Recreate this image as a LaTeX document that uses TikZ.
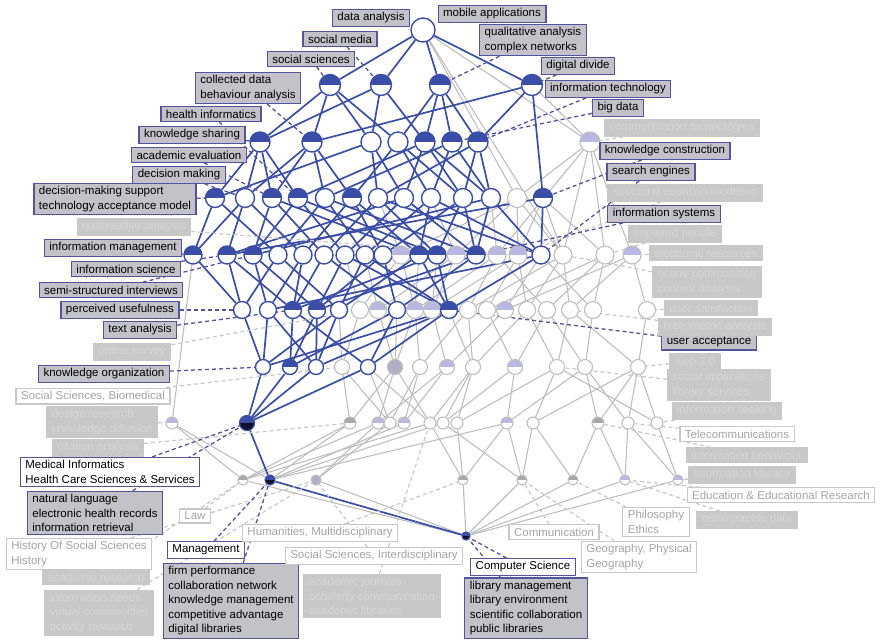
\documentclass[tikz,border=0pt]{standalone}
\usepackage{fontspec}
\setmainfont{Liberation Sans}

\definecolor{cblue}{RGB}{58,78,168}
\definecolor{lblue}{RGB}{84,84,158}
\definecolor{lfill}{RGB}{194,194,200}
\definecolor{gfill}{RGB}{200,200,200}
\definecolor{gtext}{RGB}{214,214,214}
\definecolor{otext}{RGB}{165,165,165}
\definecolor{gline}{RGB}{190,190,190}
\definecolor{lav}{RGB}{184,184,226}
\definecolor{ghalf}{RGB}{168,168,168}
\definecolor{dkfill}{RGB}{16,16,40}
\definecolor{lavgray}{RGB}{176,176,196}

\pgfdeclarelayer{edges}
\pgfsetlayers{edges,main}

\tikzset{
  concept/.style={circle, inner sep=0pt},
  tophalf/.style={path picture={\fill[#1] (path picture bounding box.west) rectangle (path picture bounding box.north east);}},
  bw/.style={concept, draw=cblue, line width=1.4pt, fill=white},
  bh/.style={bw, tophalf=cblue},
  gw/.style={concept, draw=gline, line width=1.1pt, fill=white},
  lh/.style={gw, tophalf=lav},
  gh/.style={gw, tophalf=ghalf},
  gf/.style={gw, fill=lavgray},
  dk/.style={concept, draw=cblue, line width=1.2pt, fill=dkfill, tophalf=cblue},
  lbl/.style={rectangle, inner xsep=5pt, inner ysep=3pt, align=left, line width=1.2pt},
  aon/.style={lbl, fill=lfill, draw=lblue, text=black},
  aoff/.style={lbl, fill=gfill, draw=gfill, text=gtext},
  oon/.style={lbl, fill=white, draw=lblue, text=black},
  ooff/.style={lbl, fill=white, draw=gfill, text=otext},
  bedge/.style={draw=cblue, line width=1.7pt},
  gedge/.style={draw=gline, line width=1.1pt},
  bdash/.style={draw=lblue, line width=1.3pt, dash pattern=on 4pt off 3pt},
  gdash/.style={draw=gfill, line width=1.2pt, dash pattern=on 4pt off 3pt},
}

\begin{document}
\begin{tikzpicture}[x=1pt, y=-1pt, font=\fontsize{11.5}{14.5}\selectfont]
    \useasboundingbox (0,0) rectangle (881,641);

    % Concepts, row by row
    \node[bw, minimum size=24pt] (top) at (423,30) {};
    \foreach \n/\x/\s in {a1/330/bh, a2/381/bh, a3/440/bh, a4/532/bh}
        \node[\s, minimum size=21pt] (\n) at (\x,85) {};
    \foreach \n/\x/\s in {b1/260/bh, b2/312/bh, b3/371/bw, b4/398/bw, b5/425/bh, b6/452/bh, b7/478/bh, b8/590/lh}
        \node[\s, minimum size=20pt] (\n) at (\x,142) {};
    \foreach \n/\x/\s in {c1/215/bh, c2/245/bw, c3/272/bh, c4/298/bh, c5/325/bw, c6/352/bh, c7/378/bw,
                          c8/404/bw, c9/431/bw, c10/463/bw, c11/491/bw, c12/517/gw, c13/543/bh}
        \node[\s, minimum size=19pt] (\n) at (\x,198) {};
    \foreach \n/\x/\s in {d1/193/bh, d2/227/bh, d3/253/bh, d4/278/bw, d5/303/bw, d6/324/bw, d7/345/bw,
                          d8/365/bw, d9/383/bw, d10/401/lh, d11/419/bh, d12/437/bh, d13/456/lh, d14/476/bh,
                          d15/497/lh, d16/518/lh, d17/541/bw, d18/563/gw, d19/605/gw, d20/632/lh}
        \node[\s, minimum size=18pt] (\n) at (\x,255) {};
    \foreach \n/\x/\s in {e1/242/bw, e2/268/bw, e3/293/bh, e4/317/bh, e5/339/bw, e6/360/gw, e7/378/lh,
                          e8/397/bw, e9/415/lh, e10/432/lh, e11/449/bh, e12/468/gw, e13/487/gw, e14/505/lh,
                          e15/527/gw, e16/547/gw, e17/570/gw, e18/593/gw, e19/647/gw}
        \node[\s, minimum size=17pt] (\n) at (\x,310) {};
    \foreach \n/\x/\s in {f1/263/bw, f2/290/bh, f3/316/bw, f4/342/gw, f5/368/bw, f6/395/gf, f7/420/gw,
                          f8/447/lh, f9/473/gw, f10/515/lh, f11/557/gw, f12/585/gw, f13/638/gw}
        \node[\s, minimum size=15pt] (\n) at (\x,367) {};
    \foreach \n/\x/\s in {g1/172/lh, g3/350/gh, g4/378/lh, g5/390/gw, g6/404/lh, g7/430/gw, g8/443/gw,
                          g9/457/gw, g10/507/lh, g11/533/gw, g12/598/gh, g13/628/gw, g14/657/gw}
        \node[\s, minimum size=12pt] (\n) at (\x,423) {};
    \node[dk, minimum size=15pt] (g2) at (247,423) {};
    \foreach \n/\x/\s in {h1/243/gh, h2/270/dk, h3/316/gf, h4/463/gh, h5/522/gh, h6/573/gh, h7/625/lh, h8/678/lh}
        \node[\s, minimum size=10pt] (\n) at (\x,480) {};
    \node[dk, minimum size=8pt] (k1) at (466,536) {};

    % Attribute labels
    \node[aon] (dataanalysis) at (371,18) {data analysis};
    \node[aon] (mobileapps) at (492,14) {mobile applications};
    \node[aon] (socialmedia) at (340,39) {social media};
    \node[aon] (qualitative) at (533,40) {qualitative analysis\\complex networks};
    \node[aon] (socialsci) at (311,59) {social sciences};
    \node[aon] (digitaldivide) at (578,66) {digital divide};
    \node[aon] (collected) at (248,88) {collected data\\behaviour analysis};
    \node[aon] (infotech) at (608,89) {information technology};
    \node[aon] (bigdata) at (618,108) {big data};
    \node[aon] (healthinf) at (211,114) {health informatics};
    \node[aon] (knowsharing) at (192,135) {knowledge sharing};
    \node[aon] (acadeval) at (189,155) {academic evaluation};
    \node[aon] (knowconstr) at (665,151) {knowledge construction};
    \node[aon] (decmaking) at (179,175) {decision making};
    \node[aon] (searcheng) at (651,172) {search engines};
    \node[aon] (dmsupport) at (115,199) {decision-making support\\technology acceptance model};
    \node[aon] (infosys) at (664,214) {information systems};
    \node[aon] (infomgmt) at (113,248) {information management};
    \node[aon] (infosci) at (126,269) {information science};
    \node[aon] (semistruct) at (111,290) {semi-structured interviews};
    \node[aon] (perceived) at (120,310) {perceived usefulness};
    \node[aon] (textan) at (140,330) {text analysis};
    \node[aon] (useracc) at (709,342) {user acceptance};
    \node[aon] (knoworg) at (104,374) {knowledge organization};
    \node[aon] (natlang) at (95,513) {natural language\\electronic health records\\information retrieval};
    \node[aon] (firmperf) at (231,601) {firm performance\\collaboration network\\knowledge management\\competitive advantage\\digital libraries};
    \node[aon] (libmgmt) at (526,608) {library management\\library environment\\scientific collaboration\\public libraries};

    \node[aoff] (commtech) at (682,128) {communication technologies};
    \node[aoff] (structeq) at (685,193) {structural equation modeling};
    \node[aoff] (quantitative) at (134,227) {quantitative analysis};
    \node[aoff] (impaired) at (675,234) {impaired people};
    \node[aoff] (electronic) at (706,253) {electronic resources};
    \node[aoff] (onlinecomm) at (707,282) {online communities\\content analysis};
    \node[aoff] (usersat) at (711,308) {user satisfaction};
    \node[aoff] (bibliometric) at (715,327) {bibliometric analysis};
    \node[aoff] (onlinesurvey) at (132,352) {online survey};
    \node[aoff] (webtwo) at (695,361) {web 2.0};
    \node[aoff] (socialimpl) at (719,385) {social implications\\library services};
    \node[aoff] (designres) at (102,422) {design research\\knowledge diffusion};
    \node[aoff] (infoseek) at (727,411) {information seeking};
    \node[aoff] (citation) at (98,448) {citation analysis};
    \node[aoff] (infobehav) at (747,455) {information behaviour};
    \node[aoff] (infolit) at (742,475) {information literacy};
    \node[aoff] (bibliodata) at (747,520) {bibliographic data};
    \node[aoff] (acadres) at (96,577) {academic research};
    \node[aoff] (acadjournals) at (372,596) {academic journals\\scholarly communication\\academic libraries};
    \node[aoff] (infoneeds) at (99,613) {information needs\\virtual communities\\activity research};

    % Object labels
    \node[oon] (medinf) at (110,472) {Medical Informatics\\Health Care Sciences \& Services};
    \node[oon] (mgmt) at (206,550) {Management};
    \node[oon] (compsci) at (523,567) {Computer Science};

    \node[ooff] (socscibio) at (93,396) {Social Sciences, Biomedical};
    \node[ooff] (telecom) at (737,434) {Telecommunications};
    \node[ooff] (law) at (195,516) {Law};
    \node[ooff] (edu) at (781,495) {Education \& Educational Research};
    \node[ooff] (humanities) at (320,533) {Humanities, Multidisciplinary};
    \node[ooff] (philosophy) at (656,522) {Philosophy\\Ethics};
    \node[ooff] (communication) at (554,532) {Communication};
    \node[ooff] (history) at (79,554) {History Of Social Sciences\\History};
    \node[ooff] (socsciinter) at (374,556) {Social Sciences, Interdisciplinary};
    \node[ooff] (geography) at (639,557) {Geography, Physical\\Geography};

    \begin{pgfonlayer}{edges}
    % grey part of the lattice
    \foreach \u/\v in {top/b8, top/c12, top/d18, a4/b8, b8/c12, b8/d15, b8/d18, b8/d19, b8/d20,
                       c12/d10, c12/d13, c12/d16, c12/d18, c7/d10, c9/d13, c11/d15, c13/d16, c13/d18, c13/d19,
                       d10/e6, d10/e9, d13/e7, d13/e10, d15/e9, d15/e12, d16/e10, d16/e13, d18/e12, d18/e15,
                       d18/e17, d19/e13, d19/e16, d19/e18, d20/e14, d20/e17, d20/e19, d7/e6, d8/e7, d15/e16,
                       d16/e15, d17/e18, d17/e14, d12/e10, d11/e9,
                       e6/f4, e5/f4, e7/f6, e9/f6, e9/f7, e12/f7, e10/f8, e14/f8, e12/f9, e15/f9, e13/f10,
                       e16/f10, e15/f11, e17/f11, e16/f12, e18/f12, e19/f13, e17/f13, e8/f6, e11/f9,
                       d1/g1, f4/g3, f6/g3, f6/g4, f8/g4, f7/g5, f4/g5, f8/g6, f7/g6, f9/g7, f6/g7, f10/g8,
                       f9/g8, f9/g9, f11/g9, f10/g10, f12/g10, f11/g11, f13/g11, f12/g12, f13/g12, f13/g13,
                       f12/g13, f13/g14, f11/g14, f5/g5, f5/g7,
                       g1/h1, g1/h2, g3/h1, g4/h1, g7/h1, g6/h2, g10/h2, g3/h2, g8/h2, g5/h3, g4/h3,
                       g7/h4, g10/h4, g9/h4, g11/h5, g10/h5, g8/h5, g12/h6, g11/h6, g13/h7, g12/h7,
                       g14/h8, g13/h8,
                       h1/k1, h3/k1, h4/k1, h5/k1, h6/k1, h7/k1, h8/k1}
        \draw[gedge] (\u) -- (\v);

    % blue part of the lattice
    \foreach \u/\v in {top/a1, top/a2, top/a3, top/a4,
                       a1/b1, a1/b2, a1/b3, a1/b4, a2/b1, a2/b3, a2/b5, a3/b4, a3/b5, a3/b6, a3/b7,
                       a4/b2, a4/b7, a4/c13,
                       b1/c1, b1/c2, b1/c3, b1/c4, b2/c2, b2/c3, b2/c5, b2/c6, b3/c1, b3/c7, b3/c8,
                       b4/c6, b4/c9, b4/c10, b5/c4, b5/c8, b5/c10, b5/c11, b6/c9, b6/c11, b6/c5,
                       b7/c10, b7/c11, b7/c7,
                       c1/d1, c1/d4, c2/d2, c2/d5, c2/d1, c3/d3, c3/d6, c3/d11, c4/d3, c4/d7, c4/d12,
                       c5/d4, c5/d8, c5/d14, c6/d5, c6/d9, c6/d11, c7/d6, c7/d12, c7/d17, c8/d7, c8/d14,
                       c8/d2, c9/d8, c9/d11, c9/d17, c10/d9, c10/d12, c10/d14, c11/d14, c11/d17, c11/d3,
                       c13/d17, c13/d2,
                       d1/e1, d2/e1, d2/e3, d3/e2, d3/e4, d4/e1, d4/e5, d5/e2, d5/e3, d6/e3, d6/e8,
                       d7/e4, d7/e11, d8/e5, d8/e11, d9/e4, d9/e8, d11/e5, d11/e11, d12/e3, d12/e11,
                       d14/e8, d14/e4, d17/e11, d17/e2,
                       e1/f1, e2/f1, e2/f3, e3/f2, e3/f5, e4/f2, e4/f3, e5/f3, e5/f1, e8/f5, e8/f2,
                       e11/f1, e11/f5, e11/f3,
                       f1/g2, f2/g2, f3/g2, f5/g2, g2/h2, h2/k1}
        \draw[bedge] (\u) -- (\v);

    % labels to their concepts
    \foreach \l/\v in {commtech/b8, structeq/d16, quantitative/d15, impaired/d19, electronic/d20,
                       onlinecomm/d18, usersat/e19, bibliometric/e17, onlinesurvey/e6, webtwo/f13,
                       socialimpl/f11, designres/g1, infoseek/g14, citation/g3, infobehav/g12,
                       infolit/h8, bibliodata/h7, acadres/h1, acadjournals/g7, infoneeds/h3,
                       socscibio/f4, telecom/g13, law/h1, edu/h7, humanities/h4, philosophy/h6,
                       communication/h5, history/h3, socsciinter/h3, geography/h5}
        \draw[gdash] (\l) -- (\v);
    \foreach \l/\v in {socialmedia/a2, qualitative/a3, socialsci/a1, digitaldivide/a4, collected/b2,
                       infotech/b7, bigdata/b6, healthinf/c4, knowsharing/b1, acadeval/c3,
                       decmaking/c2, dmsupport/c1, knowconstr/c13, searcheng/d17, infosys/d14,
                       infomgmt/d1, infosci/d2, semistruct/d3, perceived/e1, textan/e3, useracc/e11,
                       knoworg/f1, medinf/g2, natlang/g2, mgmt/h2, firmperf/h2, compsci/k1, libmgmt/k1}
        \draw[bdash] (\l) -- (\v);
    \end{pgfonlayer}
\end{tikzpicture}
\end{document}
